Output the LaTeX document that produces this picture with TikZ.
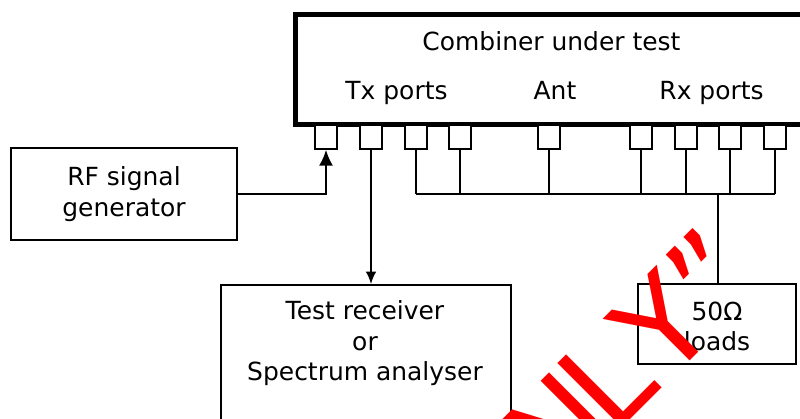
\documentclass[tikz,border=0pt]{standalone}
\usepackage{fontspec}
\setmainfont{DejaVu Sans}
\usetikzlibrary{arrows.meta,positioning}
\begin{document}
\begin{tikzpicture}[
  font=\fontsize{14.2pt}{17.4pt}\selectfont,
  box/.style={draw=black,line width=1pt,fill=white,align=center,inner sep=0pt},
  port/.style={draw=black,line width=1pt,fill=white,minimum width=0.44cm,minimum height=0.48cm,inner sep=0pt},
  lbl/.style={inner sep=0pt,align=center},
  wire/.style={draw=black,line width=1pt},
]
\useasboundingbox (0,0) rectangle (16,8.36);
\clip (0,0) rectangle (16,8.36);
\node[box,line width=2.8pt,minimum width=11.2cm,minimum height=2.2cm,anchor=north west] (combiner) at (5.86,8.12) {};
\node[lbl] (title) at (11.03,7.53) {Combiner under test};
\node[lbl] (txlabel) at (7.93,6.51) {Tx ports};
\node[lbl] (antlabel) at (11.1,6.55) {Ant};
\node[lbl] (rxlabel) at (14.23,6.51) {Rx ports};
% ports along the lower edge
\node[port] (txa) at (6.52,5.62) {};
\node[port] (txb) at (7.42,5.62) {};
\node[port] (txc) at (8.32,5.62) {};
\node[port] (txd) at (9.2,5.62) {};
\node[port] (ant) at (10.98,5.62) {};
\node[port] (rxa) at (12.82,5.62) {};
\node[port] (rxb) at (13.72,5.62) {};
\node[port] (rxc) at (14.6,5.62) {};
\node[port] (rxd) at (15.5,5.62) {};
\node[box,minimum width=4.52cm,minimum height=1.84cm] (rfgen) at (2.48,4.48) {RF signal\\generator};
\node[box,minimum width=5.8cm,minimum height=4cm,anchor=north west] (test) at (4.4,2.68) {};
\node[lbl] (testtext) at (7.3,1.49) {Test receiver\\or\\Spectrum analyser};
\node[box,minimum width=3.16cm,minimum height=1.6cm] (loads) at (14.34,1.88) {};
\node[lbl] (loadstext) at (14.34,1.83) {50Ω\\loads};
\coordinate (bus) at (0,4.48);
\draw[wire] (txc.south |- bus) -- (rxd.south |- bus);
\foreach \p in {txc,txd,ant,rxa,rxb,rxc,rxd}
  \draw[wire] (\p.south) -- (\p.south |- bus);
\draw[wire] (14.36,2.68) -- (14.36,4.48);
\draw[wire,-{Latex[length=9pt,width=8pt]}] (rfgen.east) -| (txa.south);
\draw[wire,-{Latex[length=7pt,width=6pt]}] (txb.south) -- (txb.south |- test.north);
\node[rotate=45,text=red,inner sep=0pt,font=\fontsize{71pt}{71pt}\selectfont] (stamp) at (12.58,1.21) {N\kern-0.1em L\kern0.05em Y”};
\end{tikzpicture}
\end{document}
